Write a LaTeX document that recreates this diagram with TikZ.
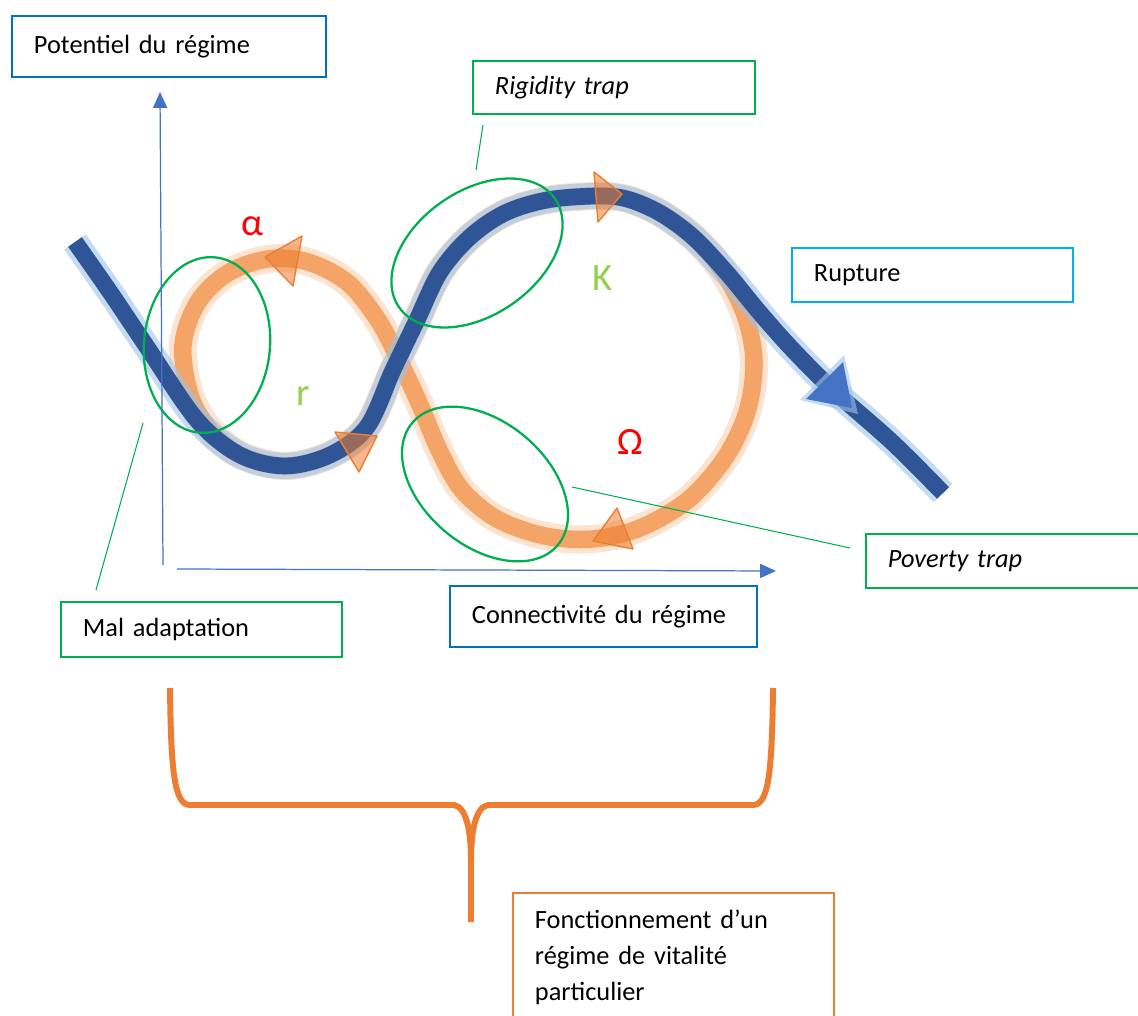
\documentclass[tikz,border=0pt]{standalone}
\usepackage{fontspec}
\setmainfont{Carlito}
\usetikzlibrary{arrows.meta}
\definecolor{boxblue}{HTML}{0070C0}
\definecolor{boxgreen}{HTML}{00B050}
\definecolor{boxcyan}{HTML}{00B0F0}
\definecolor{boxor}{HTML}{ED7D31}
\definecolor{axisblue}{HTML}{4472C4}
\definecolor{curveblue}{HTML}{2F5597}
\definecolor{glowblue}{HTML}{9DC3E6}
\definecolor{loopor}{HTML}{F4A466}
\definecolor{labred}{HTML}{FF0000}
\definecolor{labgreen}{HTML}{92D050}

\begin{document}
\begin{tikzpicture}[x=0.02cm, y=-0.02cm,
    box/.style={draw, line width=1.1pt, anchor=north west, align=left, inner xsep=0.44cm, font=\fontsize{15}{18}\selectfont},
    greek/.style={font=\fontsize{22}{26}\selectfont},
    leader/.style={draw=boxgreen, line width=0.6pt},
    trapring/.style={draw=boxgreen, line width=1.3pt},
    looptip/.style={draw=boxor, fill=boxor, fill opacity=0.55, line width=0.8pt, line join=round},
    axisline/.style={draw=axisblue, line width=0.7pt, -{Triangle[length=9pt, width=8pt]}}]
    \clip (0,0) rectangle (1138,1016);

    \draw[loopor, line width=16pt, opacity=0.3] plot[smooth cycle, tension=0.55] coordinates {(240,455) (285,466) (330,455) (367,427) (393,370) (417,320) (440,272) (470,237) (505,213) (547,200) (597,196) (627,199) (660,213) (693,237) (722,270) (745,315) (754,362) (747,412) (725,458) (688,500) (640,528) (593,539) (545,536) (497,519) (462,490) (440,452) (420,405) (400,362) (378,320) (348,283) (308,262) (268,259) (228,273) (198,302) (183,345) (190,395) (210,430)};
    \draw[loopor, line width=10pt] plot[smooth cycle, tension=0.55] coordinates {(240,455) (285,466) (330,455) (367,427) (393,370) (417,320) (440,272) (470,237) (505,213) (547,200) (597,196) (627,199) (660,213) (693,237) (722,270) (745,315) (754,362) (747,412) (725,458) (688,500) (640,528) (593,539) (545,536) (497,519) (462,490) (440,452) (420,405) (400,362) (378,320) (348,283) (308,262) (268,259) (228,273) (198,302) (183,345) (190,395) (210,430)};

    \draw[glowblue, line width=15pt, opacity=0.6] plot[smooth, tension=0.55] coordinates {(75,242) (110,292) (147,347) (197,420) (240,455) (285,466) (330,455) (367,427) (393,370) (417,320) (440,272) (470,237) (505,213) (547,200) (597,196) (627,199) (660,213) (693,237) (727,273) (760,313) (793,350) (833,390) (893,443) (943,493)};
    \draw[curveblue, line width=9.5pt] plot[smooth, tension=0.55] coordinates {(75,242) (110,292) (147,347) (197,420) (240,455) (285,466) (330,455) (367,427) (393,370) (417,320) (440,272) (470,237) (505,213) (547,200) (597,196) (627,199) (660,213) (693,237) (727,273) (760,313) (793,350) (833,390) (893,443) (943,493)};
    \fill[glowblue, opacity=0.6] (800,400) -- (844,355) -- (858,414) -- cycle;
    \fill[axisblue] (806,399) -- (843,362) -- (852,408) -- cycle;

    \draw[looptip] (265,257) -- (302,236) -- (293,286) -- cycle;
    \draw[looptip] (622,194) -- (594,172) -- (598,222) -- cycle;
    \draw[looptip] (593,541) -- (617,508) -- (633,549) -- cycle;
    \draw[looptip] (377,436) -- (335,432) -- (359,472) -- cycle;

    \draw[trapring] (207,345) ellipse [x radius=63, y radius=88, rotate=-5];
    \draw[trapring] (477,253) ellipse [x radius=95, y radius=62, rotate=35];
    \draw[trapring] (485,484) ellipse [x radius=95, y radius=62, rotate=-40];

    \coordinate (yfoot) at (163,565);
    \coordinate (ytop) at (160,92);
    \coordinate (xfoot) at (177,569);
    \coordinate (xend) at (776,571);
    \draw[axisline] (yfoot) -- (ytop);
    \draw[axisline] (xfoot) -- (xend);

    \node[greek, text=labred] (alpha) at (252,226) {α};
    \node[greek, text=labgreen] (kphase) at (603,278) {K};
    \node[greek, text=labgreen] (rphase) at (303,396) {r};
    \node[greek, text=labred] (omega) at (630,442) {Ω};

    \node[box, draw=boxblue, text width=5.4cm, minimum height=1.22cm] (potentiel) at (11,15) {Potentiel du régime};
    \node[box, draw=boxgreen, text width=4.76cm, minimum height=1.06cm, font=\fontsize{15}{18}\selectfont\itshape] (rigidity) at (472,60) {Rigidity trap};
    \node[box, draw=boxcyan, text width=4.74cm, minimum height=1.08cm] (rupture) at (791,247) {Rupture};
    \node[box, draw=boxgreen, text width=4.72cm, minimum height=1.08cm, font=\fontsize{15}{18}\selectfont\itshape] (poverty) at (865,533) {Poverty trap};
    \node[box, draw=boxblue, text width=5.26cm, minimum height=1.22cm] (connect) at (449,585) {Connectivité du régime};
    \node[box, draw=boxgreen, text width=4.74cm, minimum height=1.1cm] (maladapt) at (60,601) {Mal adaptation};
    \node[box, draw=boxor, text width=5.54cm, minimum height=2.56cm, font=\fontsize{15}{20.5}\selectfont] (fonct) at (512,892) {Fonctionnement d’un\\régime de vitalité\\particulier};

    \coordinate (rigfoot) at (476,170);
    \coordinate (righead) at (483,125);
    \coordinate (malfoot) at (96,590);
    \coordinate (malhead) at (143,423);
    \coordinate (povfoot) at (850,548);
    \coordinate (povhead) at (572,487);
    \draw[leader] (rigfoot) -- (righead);
    \draw[leader] (malfoot) -- (malhead);
    \draw[leader] (povfoot) -- (povhead);

    \draw[boxor, line width=3.4pt, line join=round] (170,688) .. controls (171,770) and (174,805) .. (190,805) -- (454,805) .. controls (466,807) and (471,830) .. (471,860) -- (471,922);
    \draw[boxor, line width=3.4pt, line join=round] (773,688) .. controls (772,770) and (769,805) .. (753,805) -- (488,805) .. controls (476,807) and (471,830) .. (471,860);
\end{tikzpicture}
\end{document}
